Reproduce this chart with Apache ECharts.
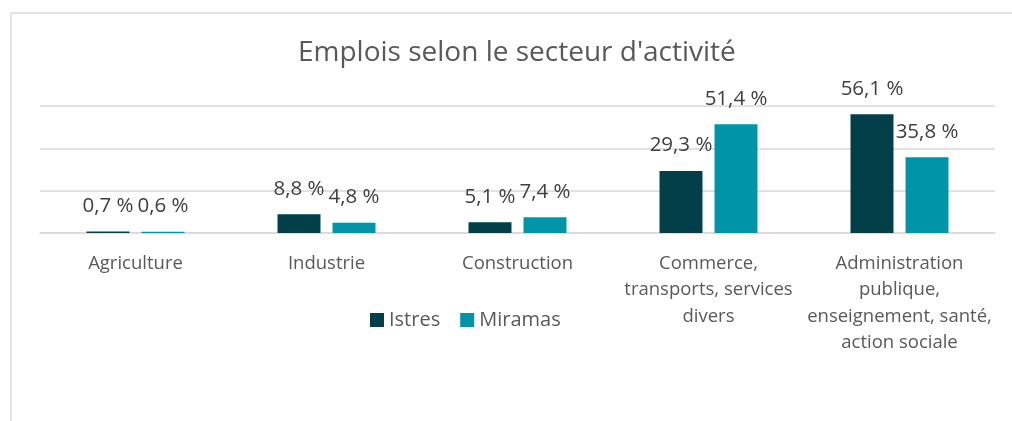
<!DOCTYPE html>
<html>
<head>
<meta charset="utf-8">
<script src="https://cdn.jsdelivr.net/npm/echarts@6/dist/echarts.min.js"></script>
<style>
  html, body { margin: 0; padding: 0; background: #ffffff; }
  #chart { width: 1012px; height: 421px; }
</style>
</head>
<body>
<div id="chart"></div>
<script>
// Sectors of activity (axis labels carry their own line breaks)
const categories = [
  'Agriculture',
  'Industrie',
  'Construction',
  'Commerce,\ntransports, services\ndivers',
  'Administration\npublique,\nenseignement, santé,\naction sociale'
];
// Share of jobs per sector, in percent
const istres = [0.7, 8.8, 5.1, 29.3, 56.1];
const miramas = [0.6, 4.8, 7.4, 51.4, 35.8];
const seriesNames = ['Istres', 'Miramas'];
const titleText = "Emplois selon le secteur d'activité";

const FONT = '"Open Sans", Lato, sans-serif';
const fmt = v => v.toFixed(1).replace('.', ',') + ' %';
const frameStyle = { stroke: '#d9d9d9', lineWidth: 1.5 };

const chart = echarts.init(document.getElementById('chart'));
chart.setOption({
  animation: false,
  backgroundColor: '#ffffff',
  // chart-area frame: top and left edges
  graphic: [
    { type: 'line', silent: true, shape: { x1: 11, y1: 13, x2: 1012, y2: 13 }, style: frameStyle },
    { type: 'line', silent: true, shape: { x1: 11, y1: 13, x2: 11, y2: 421 }, style: frameStyle }
  ],
  title: {
    text: titleText,
    left: 293,
    top: 34,
    textStyle: { fontFamily: FONT, fontSize: 28, fontWeight: 'normal', color: '#595959' }
  },
  legend: {
    left: 365, top: 305,
    itemWidth: 14, itemHeight: 14, itemGap: 20,
    icon: 'rect',
    textStyle: { fontFamily: FONT, fontSize: 20, color: '#595959' },
    data: seriesNames
  },
  grid: { left: 40, right: 17, top: 106, bottom: 188 },
  xAxis: {
    type: 'category',
    data: categories,
    axisLine: { lineStyle: { color: '#d9d9d9', width: 1.5 } },
    axisTick: { show: false },
    axisLabel: {
      interval: 0, margin: 17,
      fontFamily: FONT, fontSize: 18.5, lineHeight: 26.5, color: '#595959', align: 'center'
    }
  },
  yAxis: {
    type: 'value',
    min: 0, max: 60, interval: 20,
    axisLabel: { show: false },
    axisLine: { show: false },
    axisTick: { show: false },
    splitLine: { lineStyle: { color: '#d9d9d9', width: 1.5 } }
  },
  series: [
    {
      name: seriesNames[0], type: 'bar', data: istres,
      barWidth: '22.5%', barGap: '28%',
      itemStyle: { color: '#023f48' },
      label: { show: true, position: 'top', distance: 15, formatter: p => fmt(p.value),
        fontFamily: FONT, fontSize: 20.5, color: '#404040' }
    },
    {
      name: seriesNames[1], type: 'bar', data: miramas,
      barWidth: '22.5%', barGap: '28%',
      itemStyle: { color: '#0094a8' },
      label: { show: true, position: 'top', distance: 15, formatter: p => fmt(p.value),
        fontFamily: FONT, fontSize: 20.5, color: '#404040' }
    }
  ]
});
</script>
</body>
</html>
